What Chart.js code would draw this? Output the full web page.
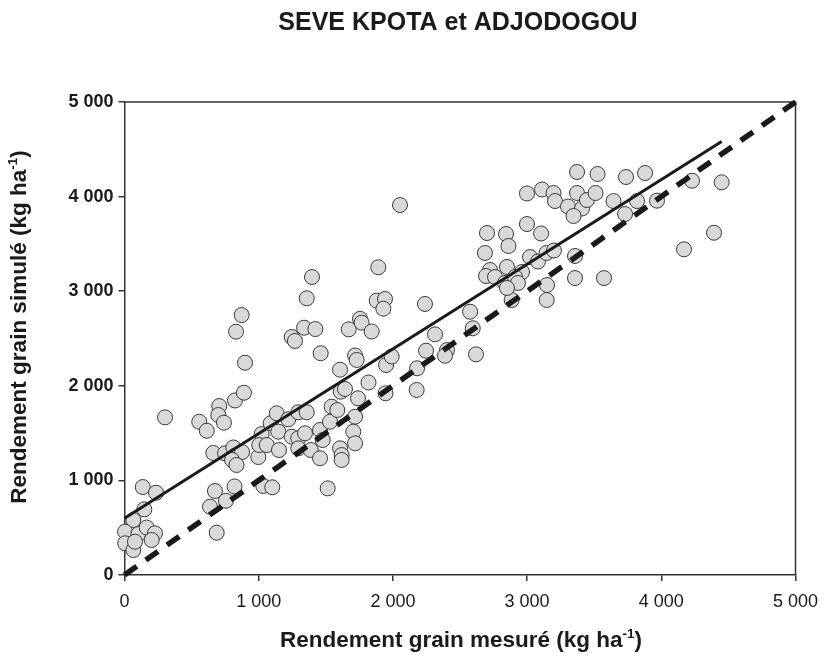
<!DOCTYPE html>
<html>
<head>
<meta charset="utf-8">
<script src="https://cdn.jsdelivr.net/npm/chart.js@4.4.1/dist/chart.umd.min.js"></script>
<style>
html,body{margin:0;padding:0;background:#fff;}
canvas{display:block;}
</style>
</head>
<body>
<canvas id="c" width="825" height="658"></canvas>
<script>
// ---- data ----
const chartTitle = 'SEVE KPOTA et ADJODOGOU';
const xAxisTitle = ['Rendement grain mesuré (kg ha', '-1', ')'];
const yAxisTitle = ['Rendement grain simulé (kg ha', '-1', ')'];
const tickValues = [0, 1000, 2000, 3000, 4000, 5000];
const tickLabels = ['0', '1 000', '2 000', '3 000', '4 000', '5 000'];

const measured = [136,235,148,66,4,5,66,103,165,227,
  203,78,302,557,613,706,699,741,823,890,
  662,749,811,823,876,801,835,674,637,756,
  820,687,831,873,898,997,1022,1004,1089,1134,
  1220,1295,1358,1060,1146,1151,1246,1295,1345,1295,
  1388,1457,1457,1477,1531,1544,1586,1611,1606,1618,
  1618,1514,1034,1101,1643,1740,1718,1705,1718,1818,
  1945,2177,1397,1358,1246,1270,1338,1422,1462,1671,
  1755,1767,1842,1891,1879,1941,1929,1718,1730,1606,
  1949,1991,2053,2180,2239,2575,2314,2247,2403,2388,
  2595,2619,2885,3146,3372,3525,2999,3111,3197,3208,
  3372,3305,3409,3346,3446,3510,3644,2701,2843,2861,
  2999,3104,2686,3022,3081,3145,3200,2724,2850,2962,
  2694,2761,2835,2910,2932,2850,3357,3357,3573,3148,
  3737,3879,3819,3968,3730,4229,4450,4393,4169];
const simulated = [930,870,694,581,458,335,264,433,502,441,
  370,352,1667,1620,1525,1786,1691,1610,1845,1927,
  1290,1286,1348,1261,1300,1216,1163,888,722,785,
  936,447,2572,2748,2244,1247,1490,1374,1604,1709,
  1646,1720,1720,1374,1515,1321,1462,1445,1498,1339,
  1321,1234,1533,1427,1620,1779,1744,1938,1339,1268,
  1216,916,941,927,1966,1868,1673,1515,1392,2035,
  1921,1956,3150,2925,2516,2474,2614,2600,2344,2597,
  2708,2667,2574,3253,2900,2918,2815,2320,2273,2170,
  2220,2310,3911,2185,2865,2783,2544,2371,2378,2318,
  2608,2333,2907,2907,4260,4239,4033,4075,4038,3953,
  4038,3895,3874,3795,3964,4038,3953,3615,3605,3478,
  3710,3610,3404,3361,3314,3404,3430,3224,3256,3203,
  3161,3150,3087,3150,3087,3034,3372,3139,3139,3065,
  4207,4249,3953,3957,3816,4168,4151,3618,3443];

// regression line and 1:1 line
const fitLineX = [0, 4450];
const fitLineY = [600, 4582];
const oneToOneX = [0, 5000];
const oneToOneY = [0, 5000];

// ---- rendering ----
const FONT = "'Liberation Sans', Arial, Helvetica, sans-serif";
const INK = '#1a1a1a';

const toPts = (xs, ys) => xs.map((x, i) => ({x: x, y: ys[i]}));

function drawSupTitle(ctx, parts, size) {
  const supSize = size * 0.6;
  ctx.font = 'bold ' + size + 'px ' + FONT;
  const w0 = ctx.measureText(parts[0]).width;
  const w2 = ctx.measureText(parts[2]).width;
  ctx.font = 'bold ' + supSize + 'px ' + FONT;
  const w1 = ctx.measureText(parts[1]).width;
  const total = w0 + w1 + w2;
  let x = -total / 2;
  ctx.textAlign = 'left';
  ctx.textBaseline = 'alphabetic';
  ctx.font = 'bold ' + size + 'px ' + FONT;
  ctx.fillText(parts[0], x, 0); x += w0;
  ctx.font = 'bold ' + supSize + 'px ' + FONT;
  ctx.fillText(parts[1], x, -size * 0.42); x += w1;
  ctx.font = 'bold ' + size + 'px ' + FONT;
  ctx.fillText(parts[2], x, 0);
}

const textPlugin = {
  id: 'texts',
  beforeDatasetsDraw(chart) {
    const {ctx, chartArea: a} = chart;
    ctx.save();
    ctx.strokeStyle = '#333';
    ctx.lineWidth = 1.5;
    ctx.beginPath();
    ctx.moveTo(a.left, a.top);
    ctx.lineTo(a.right, a.top);
    ctx.lineTo(a.right, a.bottom);
    ctx.stroke();
    ctx.restore();
  },
  afterDraw(chart) {
    const {ctx, chartArea: a} = chart;
    ctx.save();
    ctx.fillStyle = INK;
    // main title
    ctx.font = 'bold 25px ' + FONT;
    ctx.textAlign = 'center';
    ctx.textBaseline = 'alphabetic';
    ctx.fillText(chartTitle, 458, 30);
    // x axis title
    ctx.save();
    ctx.translate((a.left + a.right) / 2 + 1, 647);
    drawSupTitle(ctx, xAxisTitle, 22.5);
    ctx.restore();
    // y axis title
    ctx.save();
    ctx.translate(26, 327);
    ctx.rotate(-Math.PI / 2);
    drawSupTitle(ctx, yAxisTitle, 22.5);
    ctx.restore();
    ctx.restore();
  }
};

new Chart(document.getElementById('c'), {
  type: 'scatter',
  data: {
    datasets: [
      {
        type: 'line',
        label: '1:1',
        data: toPts(oneToOneX, oneToOneY),
        borderColor: INK,
        borderWidth: 5.5,
        borderDash: [15, 11],
        borderCapStyle: 'butt',
        pointRadius: 0,
        fill: false,
        clip: false,
        order: 0
      },
      {
        type: 'line',
        label: 'fit',
        data: toPts(fitLineX, fitLineY),
        borderColor: INK,
        borderWidth: 3,
        pointRadius: 0,
        fill: false,
        clip: false,
        order: 0
      },
      {
        label: 'points',
        data: toPts(measured, simulated),
        backgroundColor: '#d9d9d9',
        borderColor: '#3a3a3a',
        borderWidth: 1,
        pointRadius: 7.5,
        pointHoverRadius: 7.5,
        clip: false,
        order: 1
      }
    ]
  },
  options: {
    responsive: false,
    animation: false,
    devicePixelRatio: 1,
    layout: {padding: {top: 102, right: 29.5, bottom: 0, left: 0}},
    plugins: {legend: {display: false}, tooltip: {enabled: false}, title: {display: false}},
    scales: {
      x: {
        type: 'linear', min: 0, max: 5000,
        afterBuildTicks: s => { s.ticks = tickValues.map(v => ({value: v})); },
        afterFit: s => { s.height = 83; s.paddingRight = 0; s.paddingLeft = 0; },
        ticks: {
          callback: v => tickLabels[tickValues.indexOf(v)],
          color: INK, padding: 10,
          font: {family: FONT, size: 18, weight: 'normal'},
          maxRotation: 0
        },
        grid: {drawOnChartArea: false, drawTicks: true, tickLength: 6, tickColor: '#333', lineWidth: 1.5},
        border: {display: true, color: '#333', width: 1.5}
      },
      y: {
        type: 'linear', min: 0, max: 5000,
        afterBuildTicks: s => { s.ticks = tickValues.map(v => ({value: v})); },
        afterFit: s => { s.width = 124.5; s.paddingTop = 0; s.paddingBottom = 0; },
        ticks: {
          callback: v => tickLabels[tickValues.indexOf(v)],
          color: INK, padding: 5,
          font: {family: FONT, size: 18, weight: 'bold'}
        },
        grid: {drawOnChartArea: false, drawTicks: true, tickLength: 6, tickColor: '#333', lineWidth: 1.5},
        border: {display: true, color: '#333', width: 1.5}
      }
    }
  },
  plugins: [textPlugin]
});
</script>
</body>
</html>
